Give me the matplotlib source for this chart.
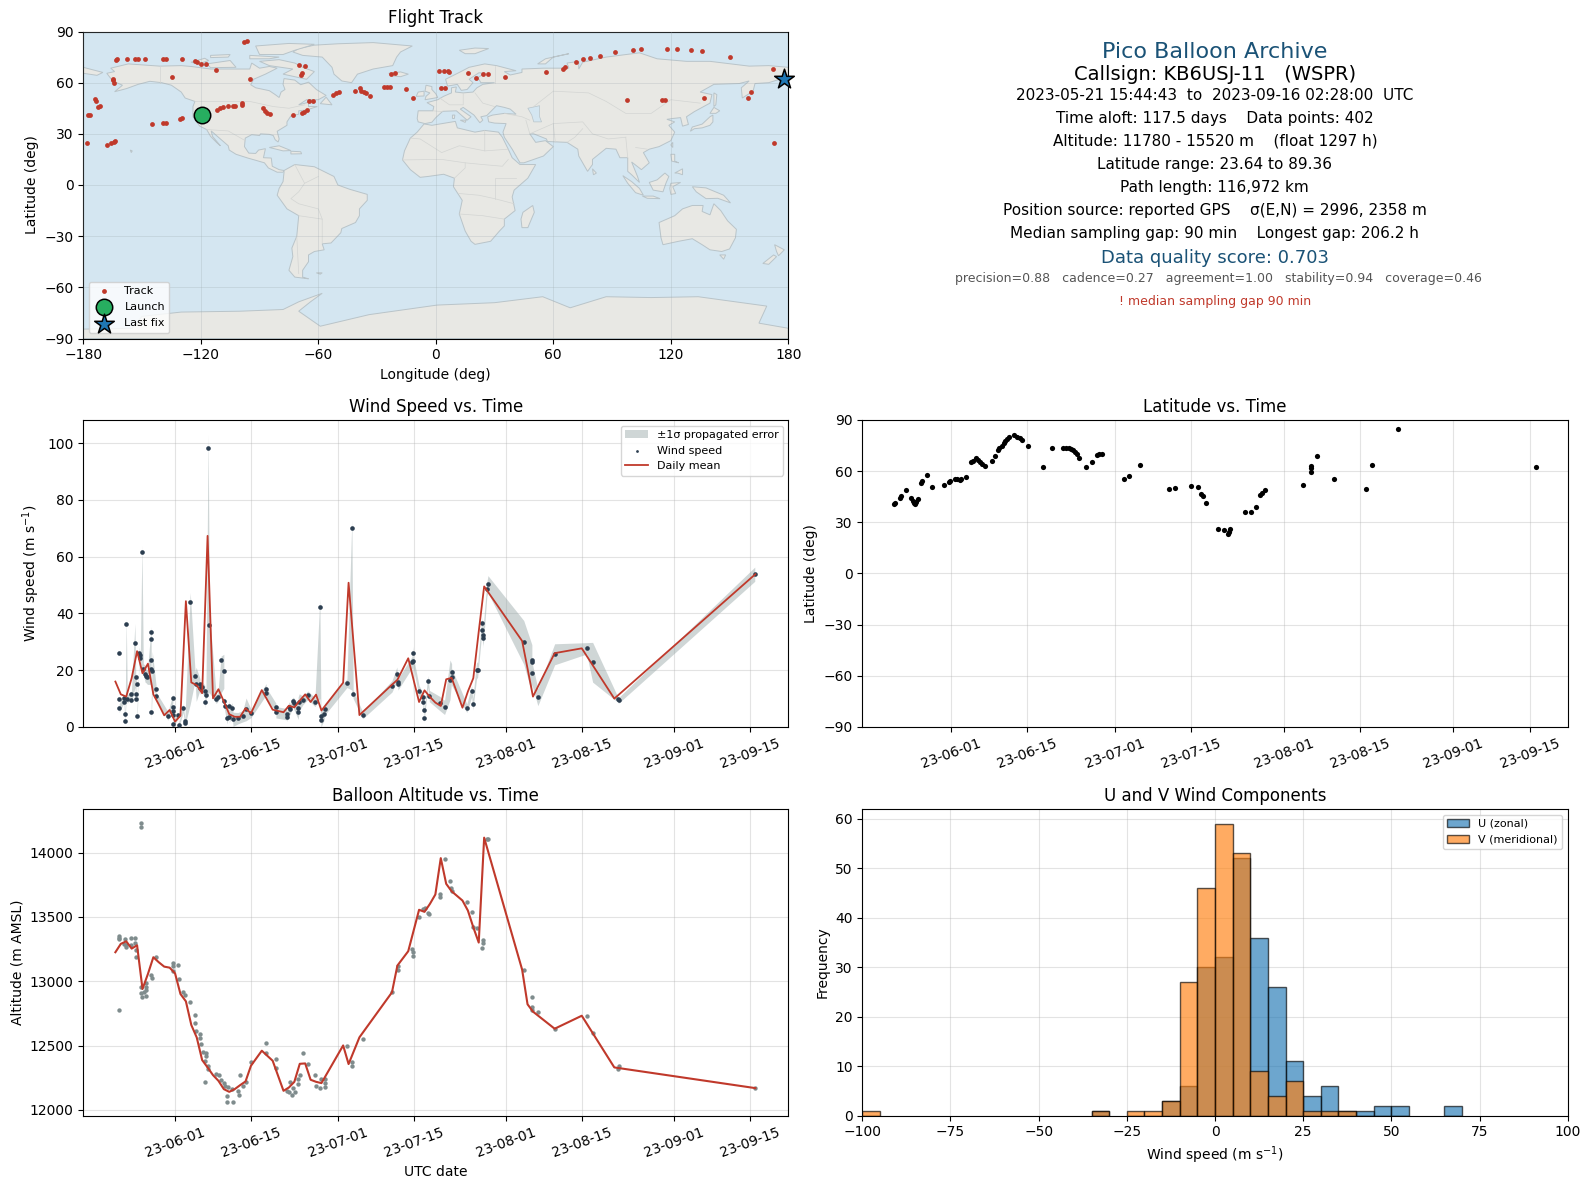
import numpy as np
import pandas as pd
import matplotlib
matplotlib.use("Agg")
import matplotlib.pyplot as plt
import matplotlib.dates as mdates

FIG_W, FIG_H = 1590, 1189

# flight track, degrees
track_lon = [-163.4, -162.9, -157.5, -153.5, -152.1, -148.6, -139.2, -137.6, -129.6, -123.1, -122.1, -120.0, -117.4, -112.0,
             -134.5, -94.7, -96.6, -97.7, -165.0, -164.8, -164.3, -173.9, -173.4, -172.3, -171.3, -177.4, -176.7, -177.9,
             -168.0, -165.9, -164.5, -163.8, -144.8, -139.2, -137.6, -130.6, -129.6, -111.8, -110.4, -108.8, -105.9,
             -103.4, -102.4, -99.1, -99.1, -88.4, -87.2, -86.0, -84.6, -72.7, -68.4, -67.3, -65.9, -64.9, -62.6, -70.1,
             -66.8, -68.2, -68.9, -52.7, -50.9, -49.2, -41.3, -38.7, -38.2, -36.8, -35.6, -33.5, -26.7, -25.1, -23.2,
             -22.7, -20.9, -15.2, -11.7, 1.4, 4.2, 6.1, 6.8, 2.6, 4.9, 16.4, 20.6, 24.1, 26.7, 35.1, 56.5, 64.7, 66.1,
             71.7, 75.4, 78.7, 83.9, 91.4, 100.5, 104.7, 117.9, 123.0, 130.3, 135.9, 150.2, 172.2, 97.7, 115.5, 117.2,
             137.1, 159.6, 161.0, 172.7]
track_lat = [73.2, 73.6, 73.6, 73.6, 73.6, 73.6, 73.6, 73.6, 73.6, 72.6, 72.4, 71.2, 70.7, 67.7,
             63.6, 61.9, 84.5, 84.1, 62.4, 61.3, 59.9, 50.5, 49.5, 45.8, 46.6, 41.0, 41.3, 24.9,
             23.6, 24.5, 25.3, 25.7, 35.5, 36.1, 36.1, 38.6, 39.2, 43.9, 45.1, 45.6, 46.2,
             46.6, 46.6, 46.8, 48.2, 44.9, 43.5, 42.5, 41.7, 41.3, 42.3, 42.9, 43.7, 49.2, 49.2, 70.1,
             69.5, 65.4, 64.6, 52.9, 53.7, 54.4, 55.2, 56.6, 55.2, 54.6, 53.7, 51.9, 57.2, 57.2, 57.2,
             64.8, 65.6, 56.0, 51.1, 67.1, 67.1, 66.7, 66.4, 56.6, 56.6, 65.6, 62.8, 64.8, 64.8, 63.4, 66.0, 68.3, 68.9,
             72.2, 73.6, 74.2, 75.9, 77.7, 79.4, 80.0, 80.0, 80.0, 79.4, 78.3, 74.8, 68.3, 50.1, 50.1, 50.1,
             51.3, 51.3, 54.8, 24.9]
launch_pos = (-119.3, 40.9)
last_pos = (178.0, 62.4)

# map outlines (lon, lat)
north_america = [(-168, 65.5), (-164, 66.5), (-166, 68.5), (-157, 71), (-141, 69.7), (-130, 70), (-125, 69.5), (-115, 68),
                 (-108, 68), (-95, 68), (-94, 71.5), (-90, 68.5), (-85, 69.5), (-81, 68.5), (-87, 65), (-93, 62),
                 (-94.5, 58.8), (-92, 57), (-85, 55.3), (-82, 53), (-80, 51.3), (-79, 54.5), (-77, 56), (-78, 59),
                 (-77.5, 62.4), (-72, 61.5), (-69, 58.8), (-65, 60.3), (-61, 56), (-56, 52.5), (-60, 50), (-66, 50),
                 (-70, 47), (-65, 48.5), (-65, 46), (-60.5, 46), (-66, 44), (-70, 43.5), (-70, 41.5), (-74, 40.5),
                 (-76, 37), (-76, 35), (-81, 31.5), (-80, 27), (-80.5, 25.2), (-82, 26.5), (-83, 29), (-85, 29.7),
                 (-89.5, 30), (-90, 29), (-94, 29.5), (-97.3, 27.5), (-97.7, 22.5), (-95.5, 18.7), (-92, 18.5),
                 (-90.5, 20.5), (-87, 21.3), (-88, 16), (-84, 15.8), (-83.5, 11), (-80, 9), (-77.5, 8.5), (-78, 7.5),
                 (-81, 7.5), (-85.5, 10), (-87.5, 13), (-92, 14.5), (-96, 15.8), (-102, 18), (-105.5, 20.5), (-106, 23),
                 (-109.5, 26.5), (-112.5, 29.5), (-114.7, 31.7), (-114, 28.5), (-110, 23), (-112, 25), (-115, 28.5),
                 (-117, 32.5), (-120.5, 34.5), (-124, 40), (-124, 46), (-123, 49), (-128, 51), (-130, 54.5), (-135, 58.5),
                 (-140, 60), (-146, 60.8), (-152, 59), (-158, 56.5), (-164, 54.7), (-160, 58.5), (-165, 61)]
greenland = [(-73, 78), (-68, 76), (-58, 75), (-53, 69), (-52, 65), (-48, 61), (-43, 60), (-40, 65), (-32, 68), (-22, 70),
             (-20, 75), (-18, 78), (-12, 81.5), (-32, 83.5), (-50, 82.8), (-62, 82), (-70, 80)]
south_america = [(-77.5, 8.5), (-72, 12), (-62, 10.7), (-52, 5), (-50, 0), (-44, -2.5), (-35, -5.5), (-35, -9), (-39, -14),
                 (-39, -18), (-41, -22), (-48, -25.5), (-48.5, -28), (-53.5, -34), (-58, -34.5), (-57, -38), (-62, -39),
                 (-65, -41), (-65, -45), (-68, -50), (-68, -54), (-65, -55), (-72, -54), (-75, -50), (-73, -42),
                 (-73.5, -37), (-71, -30), (-70, -18), (-76, -14), (-81, -6), (-80, -2), (-78, 2), (-77.5, 7.5)]
africa = [(-6, 35.8), (-2, 35), (10, 37.3), (11, 33.5), (20, 31), (25, 32), (32, 31), (34, 28), (37, 21), (39, 16), (43, 12),
          (51, 12), (47, 4), (40, -3), (39, -7), (40.5, -15), (35, -20), (35, -24), (32.5, -27), (28, -33), (20, -34.8),
          (18, -33), (15, -27), (12, -17), (13.5, -9), (9, -1), (9.5, 4), (4, 6.3), (-4, 5), (-8, 4.5), (-13, 9), (-17, 14.7),
          (-16, 20), (-13, 27.5), (-9.5, 31)]
eurasia = [(-9, 37), (-9.5, 39), (-9, 43.5), (-1.5, 43.5), (-1, 46), (-4.5, 48.3), (1, 50), (4, 52), (8, 54), (8, 57),
           (10.5, 57.5), (10, 54.5), (14, 54), (19, 54.5), (21, 57), (24, 59), (30, 60), (23, 60), (21.5, 63), (25, 65.5),
           (22, 65.8), (17, 62), (19, 60), (16, 56), (13, 55.5), (11, 59), (6, 58), (5, 62), (12, 66), (17, 69), (25, 71),
           (31, 70), (41, 67), (35, 66.5), (38, 64.5), (44, 66), (44, 68), (55, 68.5), (68, 68.5), (67, 71.5), (73, 72.5),
           (73, 68), (75, 72), (87, 75), (104, 77.5), (113, 74), (128, 72.5), (140, 72.5), (160, 69.7), (170, 70), (180, 69),
           (180, 65), (177, 62.5), (170, 60), (163, 59.5), (162, 55), (156.5, 51), (156, 57), (160, 61), (155, 59.5),
           (142, 59), (135, 54.5), (141, 53), (140, 48), (132, 43), (128, 40), (129, 35.5), (126, 34.5), (125, 39.5),
           (121, 39), (118, 38.5), (122, 37), (119, 35), (122, 31), (120, 26), (114, 22.5), (109, 21), (106, 19), (109, 13),
           (105, 9), (100, 13.5), (103, 5), (104, 1.5), (100, 6), (98, 8), (98, 16), (94, 16), (92, 21), (87, 21.5), (80, 15),
           (80, 12), (77.5, 8), (73, 17), (72.5, 21), (67, 25), (57, 25.5), (56.5, 27), (50, 30), (48, 30), (51, 25), (56, 26),
           (60, 22.5), (55, 17), (45, 13), (43, 13), (39, 21), (35, 28), (34.3, 31), (35.9, 36), (30, 36.3), (27, 37),
           (26.5, 40), (29, 41), (35, 42), (41, 41.5), (38, 44.5), (35, 45.5), (31, 46.5), (28, 43), (26, 40.7), (23, 40),
           (24, 38), (22.5, 36.5), (19.5, 41), (14, 45.5), (12.5, 44.5), (18, 40), (16, 38), (10.5, 43.5), (3.5, 43.2),
           (0, 39.5), (-2, 36.8), (-5.5, 36)]
chukotka = [(-180, 69), (-175, 67.5), (-170, 66), (-173, 64.3), (-180, 65.5)]
australia = [(114, -22), (122, -18), (126, -14), (131, -12), (136.5, -12), (136, -15.5), (140, -17.5), (142, -11), (145.5, -15),
             (149, -21), (153.5, -26), (153, -31), (150, -37.5), (146, -39), (140, -38), (136, -35), (131, -31.5), (124, -33),
             (116, -35), (115, -31)]
antarctica = [(-180, -90), (-180, -84.5), (-155, -84), (-150, -77), (-130, -74.5), (-100, -74), (-78, -73), (-70, -68.5), (-58, -63.5),
              (-64, -68.5), (-70, -74), (-59, -82.8), (-34, -76), (0.7, -70.4), (30, -69), (54.6, -65.5), (68.6, -72),
              (87, -65.5), (110, -66), (134, -65.5), (169, -71), (165, -81), (180, -84), (180, -90)]
caspian = [(47, 45), (53, 46.5), (53, 40), (54, 37), (50, 37), (49, 41)]
islands = [
    [(-80, 73.5), (-72, 71.5), (-68, 69), (-62, 66.5), (-66, 62), (-72, 63.5), (-78, 65), (-73, 68), (-85, 70), (-90, 72.5)],
    [(-117, 71), (-105, 73), (-102, 69), (-115, 68.8)],
    [(-90, 76.5), (-78, 76.5), (-72, 79), (-62, 82.5), (-75, 83), (-92, 81.5)],
    [(-125, 72), (-118, 74.3), (-116, 73), (-121, 71)],
    [(-95, 76), (-80, 75), (-85, 74), (-95, 74)],
    [(-115, 76), (-105, 76.5), (-106, 75), (-115, 74.7)],
    [(-59, 47.7), (-56, 51.5), (-53, 47)],
    [(-5.5, 50), (1, 51.3), (0, 53.5), (-2, 56), (-2, 57.7), (-5, 58.5), (-5.5, 55), (-3, 54), (-5, 52)],
    [(-10, 52), (-6, 52.2), (-6, 55), (-9, 54.5)],
    [(-24, 65.5), (-18, 66.3), (-14, 65), (-18, 63.5), (-22, 64)],
    [(12, 79), (20, 80.3), (27, 80), (20, 77), (15, 77)],
    [(52, 71), (56, 74), (68, 77), (60, 75), (56, 71)],
    [(130, 31.5), (131, 34), (136, 35.7), (140, 40), (141.5, 41), (141.5, 37), (140, 35), (136, 33.5), (132, 33)],
    [(140, 42), (142, 45.5), (145, 43.5), (143, 42)],
    [(142, 46), (142, 54), (143.5, 53), (143, 47)],
    [(80, 9.5), (82, 7), (80.5, 6)],
    [(49.5, -12), (50.3, -16), (47, -25), (44, -25), (43.5, -20), (44.5, -16)],
    [(95.5, 5.5), (100, 2), (104, -2), (106, -6), (102, -4.5), (98, 1)],
    [(105.5, -6.5), (111, -6.5), (114.5, -8), (108, -7.8)],
    [(109, 1.5), (113, 3), (117, 7), (119, 5), (117.5, 1), (116, -4), (111, -3)],
    [(120, 1), (125, 1.5), (121, -1), (122.5, -5), (120, -5.5), (119.5, -2)],
    [(131, -1), (138, -1.7), (147, -6), (150.5, -10.5), (144, -7.8), (138, -8), (133, -4)],
    [(120, 18), (122, 18), (122, 14), (124, 13), (120.5, 14)],
    [(122, 7), (126, 9.5), (126, 6), (123.5, 7)],
    [(-85, 22), (-80, 23), (-74, 20.2), (-78, 20)],
    [(-74, 19.8), (-69, 19.5), (-68.5, 18.3), (-74, 18.2)],
    [(145, -41), (148, -41), (147, -43.5)],
    [(173, -35), (178, -38), (175, -41.5), (174, -39)],
    [(172.5, -41), (174, -42), (170, -46.5), (167, -46)],
    [(121, 25), (121, 22), (120, 23.5)],
    [(-156, 20.5), (-155, 20), (-155.5, 19)],
    [(-61, -51.5), (-58, -51.5), (-59, -52.3)],
    [(8.5, 41), (9.7, 41), (9.5, 39), (8.5, 39)],
    [(12.5, 38), (15.5, 38), (15, 36.7)],
]
borders = [
    [(-123, 49), (-95, 49), (-83, 46), (-75, 45), (-67, 47)],
    [(-141, 69.7), (-141, 60)],
    [(-117, 32.5), (-106, 31.7), (-97.3, 26)],
    [(-70, -18), (-58, -20), (-58, -34)],
    [(-72, 12), (-67, 1), (-70, -4), (-74, -8), (-70, -11), (-60, -14), (-58, -20)],
    [(-60, 5), (-67, 1)],
    [(-71, -30), (-70, -52)],
    [(-13, 27.5), (-8, 27), (3, 19), (12, 23), (25, 20), (25, 32)],
    [(-17, 14.7), (3, 15), (15, 13), (24, 12), (34, 11), (37, 15)],
    [(25, 20), (37, 21)],
    [(9.5, 4), (15, 10), (15, 13)],
    [(12, -5), (22, -6), (30, -8), (40, -11)],
    [(12, -17), (24, -18), (35, -20)],
    [(30, -8), (30, 4), (41, 4)],
    [(20, 54), (24, 48), (30, 46)],
    [(14, 54), (14, 47), (7, 47), (2, 51)],
    [(-1.5, 43.5), (3.5, 43)],
    [(30, 60), (30, 70)],
    [(35, 42), (44, 40), (48, 38)],
    [(48, 30), (46, 38)],
    [(48, 30), (60, 36), (61, 25)],
    [(50, 46), (60, 55), (78, 54), (87, 49), (97, 42), (110, 42), (120, 50), (135, 48)],
    [(60, 36), (75, 37), (80, 30), (88, 27), (97, 28)],
    [(67, 25), (71, 28), (75, 33)],
    [(97, 28), (98, 16)],
    [(102, 22), (108, 21)],
]

# all time values are days after 2023-06-01
wind_days = [-10.3, -10.3, -10.3, -9.4, -9.4, -9.2, -9.2, -9.0, -8.8, -8.1, -8.1, -7.4, -7.2, -7.2, -7.2, -7.1, -7.0, -6.6,
             -6.5, -6.4, -6.1, -5.85, -5.5, -5.3, -5.1, -4.4, -4.4, -4.4, -4.4, -4.4, -4.2, -3.5, -3.5, -1.3, -0.4, -0.4, -0.4,
             -0.4, -0.4, 0.6, 0.7, 1.5, 1.8, 1.8, 2.8, 3.7, 3.9, 4.6, 4.6, 5.0, 5.5, 5.5, 5.7, 6.1, 6.35, 7.6, 7.9, 8.5, 9.0,
             9.0, 9.2, 9.6, 10.0, 10.0, 10.5, 10.7, 11.6, 12.5, 13.1, 14.0, 16.8, 16.8, 18.6, 18.6, 20.6, 20.6, 21.0, 21.2,
             21.7, 21.9, 22.7, 22.7, 22.9, 23.6, 24.5, 25.8, 26.7, 26.9, 26.9, 27.5, 27.6, 31.7, 32.6, 32.85, 34.6, 40.0, 40.9,
             41.1, 41.1, 43.7, 43.9, 43.9, 45.0, 45.7, 45.7, 45.9, 45.9, 46.6, 46.9, 48.8, 49.7, 50.7, 51.0, 51.0, 53.8, 54.7,
             54.9, 55.6, 55.8, 56.6, 56.6, 56.8, 56.8, 57.5, 57.7, 64.3, 65.8, 65.8, 65.8, 66.9, 70.0, 75.9, 77.0, 81.6, 81.8,
             106.9]
wind_speed = [26.0, 9.8, 6.6, 10.1, 8.9, 2.0, 4.5, 36.2, 9.8, 11.5, 9.4, 29.5, 11.5, 9.8, 17.5, 15.0, 3.8, 26.2,
              25.3, 24.2, 61.6, 20.3, 18.7, 18.0, 17.5, 33.4, 30.9, 23.5, 20.3, 5.2, 19.6, 13.3, 10.8, 3.9, 10.1, 6.9, 5.5,
              4.1, 0.9, 4.1, 0.6, 6.6, 2.0, 1.3, 43.9, 17.9, 15.0, 15.0, 13.6, 14.0, 12.6, 8.7, 11.2, 98.2, 35.8, 9.8, 10.5, 23.5, 19.6,
              9.0, 7.3, 3.1, 7.3, 3.4, 6.6, 2.7, 3.1, 3.8, 6.2, 4.8, 13.3, 11.9, 6.9, 5.2, 4.5, 3.4, 6.9, 6.2,
              9.0, 8.3, 5.2, 6.6, 8.7, 9.4, 11.2, 8.7, 42.2, 3.8, 2.4, 4.5, 6.2, 15.4, 70.0, 11.5, 4.1, 14.3, 18.6,
              15.7, 15.0, 22.8, 26.0, 23.1, 12.6, 10.5, 8.7, 5.9, 3.1, 16.1, 10.9, 8.3, 6.9, 16.6, 19.3, 17.7, 6.6, 12.6,
              8.0, 20.0, 20.0, 36.5, 34.1, 32.3, 31.4, 48.5, 50.3, 29.8, 23.5, 22.8, 19.0, 10.5, 25.6, 27.7, 22.8, 9.8, 9.4,
              53.8]
wind_sigma = [2.5, 1.5, 1.5, 1.5, 1.2, 1.5, 1.5, 2.0, 1.5, 1.2, 1.2, 7.0, 1.5, 1.5, 1.5, 1.5, 1.5, 2.0,
              1.5, 1.5, 2.5, 2.0, 3.0, 2.5, 2.5, 2.0, 2.0, 2.0, 2.0, 3.0, 7.0, 1.5, 1.5, 1.5, 1.5, 1.2, 1.2,
              1.2, 1.2, 1.0, 1.0, 1.5, 1.2, 1.0, 3.5, 1.5, 6.0, 2.0, 2.0, 2.0, 2.0, 2.0, 1.5, 5.0, 4.0, 1.5, 1.5, 1.5, 6.0,
              1.5, 2.0, 2.0, 2.0, 2.0, 2.0, 2.5, 2.0, 2.0, 4.0, 1.5, 2.0, 2.0, 1.5, 2.0, 2.0, 1.5, 2.0, 2.0,
              1.5, 2.0, 2.5, 4.0, 3.0, 1.5, 1.5, 1.5, 3.0, 2.5, 3.0, 2.0, 2.0, 1.5, 3.0, 1.5, 1.2, 2.0, 2.5,
              2.0, 2.0, 2.0, 2.5, 2.0, 2.0, 1.5, 2.0, 1.5, 1.5, 2.0, 2.0, 2.5, 2.5, 7.0, 3.0, 3.0, 1.5, 2.0,
              2.0, 3.0, 2.5, 2.5, 2.5, 3.5, 3.5, 2.5, 3.0, 7.7, 5.5, 5.0, 4.0, 3.0, 3.7, 2.0, 7.0, 1.0, 1.0,
              2.5]
# samples whose error band reaches down to the level of their neighbours
spike_speeds = [98.2, 70.0, 61.6, 43.9, 42.2, 36.2, 35.8, 33.4, 29.5, 26.0, 23.5]
spike_floors = [12.0, 13.0, 20.0, 8.0, 10.0, 10.0, 12.0, 15.0, 14.0, 11.0, 12.0]

alt_days = [-10.3, -10.3, -10.3, -10.3, -9.4, -9.2, -9.0, -9.0, -8.1, -8.1, -7.4, -7.4, -7.2, -7.2, -6.3, -6.3, -6.3, -6.3, -6.1,
            -5.7, -5.3, -5.3, -5.3, -5.3, -4.4, -4.2, -3.5, -0.4, -0.4, -0.4, 0.6, 0.7, 1.5, 1.8, 2.8, 3.7, 3.7, 3.9, 4.6, 4.6,
            4.8, 5.2, 5.7, 5.7, 5.5, 5.5, 6.1, 6.1, 7.6, 8.1, 8.5, 9.0, 9.2, 9.7, 10.5, 9.6, 9.6, 10.7, 11.6, 11.8, 12.0, 12.5,
            13.1, 14.0, 16.8, 16.8, 18.6, 18.6, 20.6, 21.0, 21.2, 21.6, 21.7, 22.1, 22.7, 22.7, 23.0, 23.6, 24.5, 25.8, 26.0,
            26.7, 26.9, 27.6, 27.6, 27.6, 31.7, 32.6, 32.6, 34.6, 40.0, 41.1, 41.1, 43.7, 43.9, 43.9, 45.0, 45.7, 46.1, 46.6,
            46.9, 48.8, 48.8, 49.7, 50.7, 50.9, 51.0, 53.8, 54.7, 54.9, 55.6, 56.6, 56.8, 56.8, 57.5, 57.7, 64.3, 65.8, 65.8,
            65.8, 66.9, 70.0, 75.9, 77.0, 81.6, 81.8, 106.9]
alt_m = [13353, 13337, 13327, 12776, 13291, 13327, 13265, 13280, 13337, 13280, 13337, 13296, 13241, 13187, 14233, 14202, 12953, 12909, 12878,
         12914, 12984, 12953, 12932, 12886, 13049, 13028, 13187, 13143, 13122, 13083, 13127, 13015, 12914, 12893, 12839, 12737, 12675, 12615, 12587, 12561,
         12512, 12449, 12441, 12421, 12216, 12377, 12340, 12317, 12278, 12270, 12231, 12208, 12182, 12174, 12166, 12106, 12060, 12060, 12145, 12114, 12270, 12184,
         12216, 12371, 12519, 12441, 12395, 12325, 12145, 12138, 12216, 12114, 12169, 12138, 12239, 12200, 12270, 12441, 12356, 12270, 12184,
         12169, 12239, 12239, 12208, 12177, 12496, 12371, 12340, 12551, 12917, 13119, 13088, 13252, 13228, 13197, 13501, 13563, 13569, 13532,
         13524, 13680, 13657, 13953, 13782, 13724, 13701, 13618, 13540, 13423, 13415, 13260, 13322, 13299, 14109, 14109, 13088, 12875, 12797,
         12776, 12761, 12628, 12730, 12597, 12317, 12340, 12169]

# daily means
mean_days = [-11, -10, -9, -8, -7, -6, -5, -4, -3, -2, -1, 0, 1, 2, 3, 4, 5, 6, 7, 8, 9, 10, 11, 12, 13, 14, 16, 18, 20, 21,
             22, 23, 24, 25, 26, 27, 31, 32, 34, 40, 41, 43, 45, 46, 47, 48, 49, 50, 51, 53, 54, 55, 56, 57, 64, 65, 66, 70, 75, 81, 107]
mean_wind = [16.0, 11.5, 10.7, 17.2, 26.7, 18.9, 22.3, 11.5, 7.9, 4.1, 6.0, 1.9, 4.0, 44.3, 15.7, 14.7, 11.9, 67.3, 10.1, 13.3,
             9.0, 4.5, 3.6, 3.6, 6.6, 4.8, 13.0, 6.1, 5.2, 7.5, 6.9, 9.3, 11.5, 8.8, 11.4, 5.8, 15.6, 50.8, 4.2, 14.9,
             16.6, 24.2, 8.8, 12.9, 10.6, 8.6, 7.4, 16.8, 17.3, 6.8, 12.5, 17.2, 33.6, 49.5, 30.3, 20.6, 10.7, 26.0, 27.7, 10.0, 53.8]
mean_alt = [13226, 13291, 13311, 13254, 13280, 12940, 13057, 13187, 13148, 13114, 13106, 13062, 12901, 12844, 12660, 12563, 12387, 12330, 12270, 12226,
            12161, 12140, 12161, 12192, 12221, 12343, 12460, 12382, 12148, 12174, 12218, 12358, 12361, 12234, 12218, 12208, 12501, 12356, 12564, 12914,
            13122, 13234, 13556, 13540, 13602, 13675, 13958, 13758, 13700, 13628, 13550, 13420, 13301, 14117, 13091, 12821, 12764, 12631, 12732, 12330, 12169]

lat_days = [-10.4, -10.2, -9.3, -9.1, -8.2, -7.3, -7.0, -6.8, -6.5, -6.3, -6.1, -5.4, -5.2, -4.4, -3.5, -1.3, -0.4, -0.2, 0.7, 1.1, 1.7, 1.9,
            2.8, 3.7, 4.0, 4.6, 4.9, 5.4, 5.7, 6.3, 7.5, 8.0, 8.7, 8.9, 9.3, 9.7, 9.9, 10.2, 10.7, 11.6, 12.1, 12.6, 13.1, 14.1, 16.8, 18.6,
            20.6, 21.1, 21.6, 22.0, 22.4, 22.8, 23.1, 23.5, 24.7, 25.9, 26.7, 27.1, 27.6, 31.8, 32.7, 34.7, 40.0, 41.1, 43.9, 45.2, 45.9, 46.1,
            46.8, 48.9, 50.0, 50.8, 51.0, 51.2, 53.9, 54.9, 55.8, 56.6, 56.9, 57.6, 64.4, 65.9, 65.9, 65.9, 67.0, 70.1, 76.0, 77.1, 81.9, 107.2]
lat_deg = [40.6, 41.2, 44.3, 45.5, 48.8, 44.3, 42.7, 41.6, 40.8, 42.0, 43.9, 52.9, 54.1, 57.6, 50.6, 51.8, 53.9, 54.5, 55.3, 55.5, 54.7, 55.3,
           56.5, 65.1, 65.7, 67.8, 66.3, 65.1, 64.3, 63.1, 65.7, 69.0, 72.2, 73.5, 74.9, 76.5, 77.5, 78.8, 80.2, 81.0, 80.0, 79.2, 78.0, 74.7, 62.7, 73.5,
           73.3, 73.5, 73.7, 73.1, 72.4, 71.2, 70.0, 68.0, 62.2, 65.5, 69.4, 70.0, 69.8, 55.7, 57.1, 63.5, 49.8, 50.4, 51.4, 50.8, 46.9, 45.5,
           41.2, 25.9, 25.3, 23.1, 24.1, 25.9, 35.9, 36.1, 38.8, 46.3, 47.1, 48.8, 51.6, 63.1, 61.6, 59.6, 68.8, 55.3, 49.4, 63.5, 84.9, 62.4]

# histogram, 5 m/s bins starting at the left edges below
hist_edges = [-100, -35, -25, -20, -15, -10, -5, 0, 5, 10, 15, 20, 25, 30, 35, 40, 45, 50, 65]
u_counts = [0, 1, 0, 0, 3, 6, 30, 32, 52, 36, 26, 11, 4, 6, 1, 1, 2, 2, 2]
v_counts = [1, 1, 1, 1, 3, 27, 46, 59, 53, 9, 4, 7, 1, 1, 1, 0, 0, 0, 0]

date_ticks = ["2023-06-01", "2023-06-15", "2023-07-01", "2023-07-15", "2023-08-01", "2023-08-15", "2023-09-01", "2023-09-15"]

info_lines = [
    ("Pico Balloon Archive", 16, "#1a5276", 1215, 52.2),
    ("Callsign: KB6USJ-11   (WSPR)", 14, "black", 1215, 74.4),
    ("2023-05-21 15:44:43  to  2023-09-16 02:28:00  UTC", 11, "black", 1215, 95.4),
    ("Time aloft: 117.5 days    Data points: 402", 11, "black", 1215, 118.6),
    ("Altitude: 11780 - 15520 m    (float 1297 h)", 11, "black", 1215, 141.2),
    ("Latitude range: 23.64 to 89.36", 11, "black", 1214.5, 164.6),
    ("Path length: 116,972 km", 11, "black", 1214.5, 187.6),
    ("Position source: reported GPS    σ(E,N) = 2996, 2358 m", 11, "black", 1215, 210.6),
    ("Median sampling gap: 90 min    Longest gap: 206.2 h", 11, "black", 1214.5, 233.6),
    ("Data quality score: 0.703", 13, "#1a5276", 1215, 258.4),
    ("precision=0.88   cadence=0.27   agreement=1.00   stability=0.94   coverage=0.46", 9, "#555555", 1218, 278.7),
    ("! median sampling gap 90 min", 9, "#c0392b", 1215, 302),
]

RED = "#c0392b"
NAVY = "#2c3e50"
GREY = "#7f8c8d"


def to_dates(days):
    return pd.Timestamp("2023-06-01") + pd.to_timedelta(np.asarray(days, dtype=float), unit="D")


def add_axes_px(fig, left, top, right, bottom):
    return fig.add_axes([left / FIG_W, 1 - bottom / FIG_H, (right - left) / FIG_W, (bottom - top) / FIG_H])


def style_time_axis(ax, xlim):
    ax.set_xticks(pd.to_datetime(date_ticks))
    ax.xaxis.set_major_formatter(mdates.DateFormatter("%y-%m-%d"))
    ax.tick_params(axis="x", rotation=20)
    ax.set_xlim(pd.Timestamp(xlim[0]), pd.Timestamp(xlim[1]))
    ax.grid(True, color="#b0b0b0", lw=0.8, alpha=0.35)
    ax.set_axisbelow(True)


fig = plt.figure(figsize=(FIG_W / 100, FIG_H / 100), dpi=100)

# flight track map
ax_map = add_axes_px(fig, 83.3, 31.5, 788.3, 338.5)
ax_map.set_facecolor("#d4e6f1")
land_shapes = [north_america, greenland, south_america, africa, eurasia, chukotka, australia, antarctica] + islands
for shape in land_shapes:
    lons, lats = zip(*shape)
    ax_map.fill(lons, lats, facecolor="#e8e8e4", edgecolor="#b9c4c9", lw=0.7, zorder=1)
lons, lats = zip(*caspian)
ax_map.fill(lons, lats, facecolor="#d4e6f1", edgecolor="#b9c4c9", lw=0.5, zorder=1.2)
for line in borders:
    lons, lats = zip(*line)
    ax_map.plot(lons, lats, color="#d3d5d3", lw=0.5, zorder=1.5)
ax_map.scatter(track_lon, track_lat, s=12, color=RED, zorder=4, label="Track", linewidths=0)
ax_map.scatter(*launch_pos, s=140, color="#27ae60", edgecolors="black", linewidths=1.1, zorder=5, label="Launch")
ax_map.scatter(*last_pos, s=220, marker="*", color="#1f77b4", edgecolors="black", linewidths=1.1, zorder=5,
               label="Last fix", clip_on=False)
ax_map.set_xlim(-180, 180)
ax_map.set_ylim(-90, 90)
ax_map.set_xticks(range(-180, 181, 60))
ax_map.set_yticks(range(-90, 91, 30))
ax_map.grid(True, color="#9aa5ab", lw=0.5, alpha=0.35, zorder=2)
ax_map.set_axisbelow(False)
ax_map.set_title("Flight Track", fontsize=12)
ax_map.set_xlabel("Longitude (deg)")
ax_map.set_ylabel("Latitude (deg)")
ax_map.legend(loc="lower left", fontsize=8, labelspacing=0.55, borderpad=0.4)

# summary text
for text, size, color, x_px, y_px in info_lines:
    fig.text(x_px / FIG_W, 1 - y_px / FIG_H, text, fontsize=size, color=color, ha="center", va="center")

# wind speed
ax_wind = add_axes_px(fig, 83.3, 420, 788.3, 727)
order = np.argsort(wind_days, kind="stable")
w_t = to_dates(np.array(wind_days)[order])
w_v = np.array(wind_speed)[order]
w_e = np.array(wind_sigma)[order]
band_low = np.clip(w_v - w_e, 0, None)
for speed, floor in zip(spike_speeds, spike_floors):
    band_low[w_v == speed] = floor
ax_wind.fill_between(w_t, band_low, w_v + w_e, color="#95a5a6", alpha=0.45, lw=0,
                     label="±1σ propagated error")
ax_wind.scatter(to_dates(wind_days), wind_speed, s=11, color=NAVY, linewidths=0, label="Wind speed", zorder=3)
ax_wind.plot(to_dates(mean_days), mean_wind, color=RED, lw=1.3, label="Daily mean", zorder=4)
style_time_axis(ax_wind, ("2023-05-15 02:00", "2023-09-22 02:00"))
ax_wind.set_ylim(0, 108.1)
ax_wind.set_yticks(range(0, 101, 20))
ax_wind.set_title("Wind Speed vs. Time", fontsize=12)
ax_wind.set_ylabel("Wind speed (m s$^{-1}$)")
ax_wind.legend(loc="upper right", fontsize=8, markerscale=0.6)

# latitude
ax_lat = add_axes_px(fig, 862.3, 420, 1567.7, 727)
ax_lat.scatter(to_dates(lat_days), lat_deg, s=14, color="black", linewidths=0, zorder=3)
style_time_axis(ax_lat, ("2023-05-15 19:00", "2023-09-21 23:00"))
ax_lat.set_ylim(-90, 90)
ax_lat.set_yticks(range(-90, 91, 30))
ax_lat.set_title("Latitude vs. Time", fontsize=12)
ax_lat.set_ylabel("Latitude (deg)")

# altitude
ax_alt = add_axes_px(fig, 83.3, 809, 788.3, 1115.5)
ax_alt.scatter(to_dates(alt_days), alt_m, s=10, color=GREY, linewidths=0, zorder=3)
ax_alt.plot(to_dates(mean_days), mean_alt, color=RED, lw=1.5, zorder=4)
style_time_axis(ax_alt, ("2023-05-15 02:00", "2023-09-22 02:00"))
ax_alt.set_ylim(11956, 14340)
ax_alt.set_yticks(range(12000, 14001, 500))
ax_alt.set_title("Balloon Altitude vs. Time", fontsize=12)
ax_alt.set_xlabel("UTC date")
ax_alt.set_ylabel("Altitude (m AMSL)")

# U / V histogram
ax_hist = add_axes_px(fig, 862.3, 809, 1567.7, 1115.5)
ax_hist.bar(hist_edges, u_counts, width=5, align="edge", color="#1f77b4", alpha=0.65, edgecolor="black", lw=1.0,
            label="U (zonal)")
ax_hist.bar(hist_edges, v_counts, width=5, align="edge", color="#ff7f0e", alpha=0.65, edgecolor="black", lw=1.0,
            label="V (meridional)")
ax_hist.set_xlim(-100, 100)
ax_hist.set_ylim(0, 62)
ax_hist.set_yticks(range(0, 61, 10))
ax_hist.grid(True, color="#b0b0b0", lw=0.8, alpha=0.35)
ax_hist.set_axisbelow(True)
ax_hist.set_title("U and V Wind Components", fontsize=12)
ax_hist.set_xlabel("Wind speed (m s$^{-1}$)")
ax_hist.set_ylabel("Frequency")
ax_hist.legend(loc="upper right", fontsize=8)

fig.savefig("out.png", dpi=100)
